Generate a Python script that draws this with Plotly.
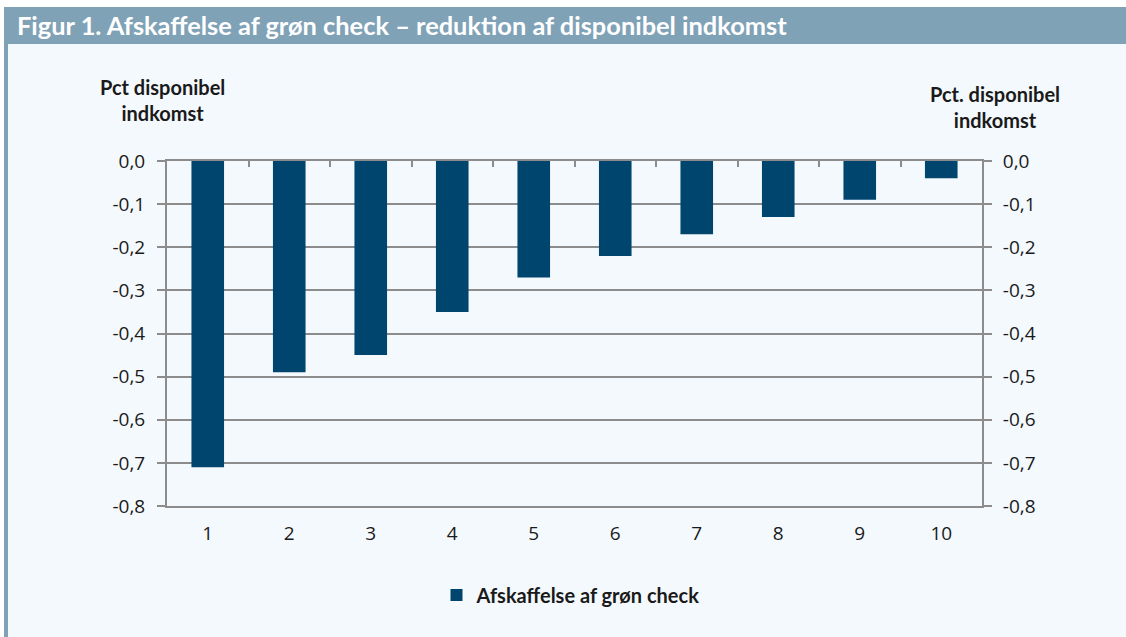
import plotly.graph_objects as go

categories = ["1", "2", "3", "4", "5", "6", "7", "8", "9", "10"]
values = [-0.71, -0.49, -0.45, -0.35, -0.27, -0.22, -0.17, -0.13, -0.09, -0.04]
series_name = "Afskaffelse af grøn check"
y_ticks = [0.0, -0.1, -0.2, -0.3, -0.4, -0.5, -0.6, -0.7, -0.8]
y_tick_labels = ["0,0", "-0,1", "-0,2", "-0,3", "-0,4", "-0,5", "-0,6", "-0,7", "-0,8"]
title_text = "Figur 1. Afskaffelse af grøn check – reduktion af disponibel indkomst"
left_title = "Pct disponibel<br>indkomst"
right_title = "Pct. disponibel<br>indkomst"

BAR = "#00456e"
BANNER = "#7fa2b7"
BG = "#f4f9fd"
GRID = "#8c8c8c"
TXT = "#1a1a1a"

fig = go.Figure()
fig.add_trace(go.Bar(x=categories, y=values, name=series_name, width=0.4,
                     marker=dict(color=BAR, line=dict(width=0)), hoverinfo="skip"))
# helper trace so the secondary axes (top ticks / right labels) render
fig.add_trace(go.Scatter(x=categories, y=values, xaxis="x2", yaxis="y2", mode="markers",
                         marker=dict(opacity=0), showlegend=False, hoverinfo="skip"))

W, H = 1126, 637
L, R, T, B = 167, 144, 161, 131
pw, ph = W - L - R, H - T - B

def px(xp):
    return (xp - L) / pw

def py(yp):
    return (H - B - yp) / ph

shapes = [
    # white page strips at top and left
    dict(type="rect", xref="paper", yref="paper", x0=px(-10), x1=px(1140), y0=py(7), y1=py(-10),
         fillcolor="white", line=dict(width=0), layer="below"),
    dict(type="rect", xref="paper", yref="paper", x0=px(-10), x1=px(4), y0=py(650), y1=py(-10),
         fillcolor="white", line=dict(width=0), layer="below"),
    # title banner and left border
    dict(type="rect", xref="paper", yref="paper", x0=px(4), x1=px(1140), y0=py(44), y1=py(7),
         fillcolor=BANNER, line=dict(width=0), layer="below"),
    dict(type="rect", xref="paper", yref="paper", x0=px(4), x1=px(8), y0=py(650), y1=py(44),
         fillcolor=BANNER, line=dict(width=0), layer="below"),
]

annotations = [
    dict(text=title_text, xref="paper", yref="paper", x=px(15), y=py(25.5),
         xanchor="left", yanchor="middle", showarrow=False,
         font=dict(family="Lato", size=25.4, color="white", weight="bold")),
    dict(text=left_title, xref="paper", yref="paper", x=px(162), y=py(100),
         xanchor="center", yanchor="middle", showarrow=False, align="center",
         font=dict(family="Lato", size=20, color=TXT, weight="bold")),
    dict(text=right_title, xref="paper", yref="paper", x=px(995), y=py(107),
         xanchor="center", yanchor="middle", showarrow=False, align="center",
         font=dict(family="Lato", size=20, color=TXT, weight="bold")),
]

tickfont = dict(family="Open Sans", size=19, color=TXT)

fig.update_layout(
    width=W, height=H,
    margin=dict(l=L, r=R, t=T, b=B, pad=0),
    paper_bgcolor=BG,
    plot_bgcolor=BG,
    shapes=shapes,
    annotations=annotations,
    showlegend=True,
    legend=dict(orientation="h", x=px(571), xanchor="center", y=py(595), yanchor="middle",
                font=dict(family="Lato", size=20, color=TXT, weight="bold"),
                bgcolor="rgba(0,0,0,0)"),
    xaxis=dict(type="category", categoryorder="array", categoryarray=categories,
               range=[-0.5, 9.5], showgrid=False, zeroline=False,
               showline=True, mirror=True, linecolor=GRID, linewidth=2,
               ticks="", tickfont=tickfont, ticklabelstandoff=9),
    xaxis2=dict(type="category", categoryorder="array", categoryarray=categories,
                overlaying="x", side="top", anchor="y", range=[-0.5, 9.5],
                showgrid=False, zeroline=False, showline=False, showticklabels=False,
                ticks="inside", tickson="boundaries", ticklen=6, tickwidth=2, tickcolor=GRID),
    yaxis=dict(range=[-0.8, 0], tickvals=y_ticks, ticktext=y_tick_labels,
               showgrid=True, gridcolor=GRID, gridwidth=2, zeroline=False,
               showline=True, linecolor=GRID, linewidth=2,
               ticks="outside", ticklen=8, tickwidth=2, tickcolor=GRID,
               tickfont=tickfont, ticklabelstandoff=8),
    yaxis2=dict(range=[-0.8, 0], tickvals=y_ticks, ticktext=y_tick_labels,
                overlaying="y", side="right", anchor="x",
                showgrid=False, zeroline=False,
                showline=True, linecolor=GRID, linewidth=2,
                ticks="outside", ticklen=8, tickwidth=2, tickcolor=GRID,
                tickfont=tickfont, ticklabelstandoff=7),
)

fig.write_html(
    "out.html",
    config={"displayModeBar": False},
    post_script=("document.documentElement.style.margin='0';"
                 "document.documentElement.style.overflow='hidden';"
                 "document.body.style.margin='0';"
                 "document.body.style.overflow='hidden';"
                 "document.body.style.background='" + BG + "';"),
)
